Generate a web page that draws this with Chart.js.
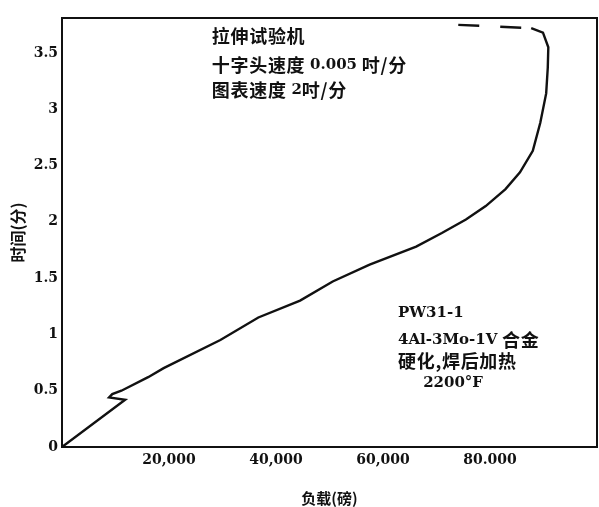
<!DOCTYPE html>
<html>
<head>
<meta charset="utf-8">
<script src="https://cdn.jsdelivr.net/npm/chart.js@4.4.1/dist/chart.umd.min.js"></script>
<style>
  html, body { margin: 0; padding: 0; background: #fff; }
  canvas { display: block; }
</style>
</head>
<body>
<canvas id="c" width="599" height="507"></canvas>
<script>
// ---- data ----
// load in pounds (x) and time in minutes (y), in drawing order (the curve doubles back at the kink)
const loadLb = [0, 11800, 8800, 9400, 11100, 16100, 19000, 29600, 36700, 44500, 50600, 57500,
                66200, 71000, 75500, 79200, 82900, 85600, 88000, 89400, 90500, 90800, 90900, 89900, 87700];
const timeMin = [0, 0.42, 0.44, 0.47, 0.50, 0.62, 0.70, 0.95, 1.15, 1.30, 1.47, 1.62,
                 1.78, 1.90, 2.02, 2.14, 2.29, 2.44, 2.63, 2.88, 3.14, 3.37, 3.55, 3.68, 3.72];
// dashed tail at the top
const tailLoadLb = [87700, 73600];
const tailTimeMin = [3.72, 3.75];

const xTickValues = [20000, 40000, 60000, 80000];
const xTickLabels = ['20,000', '40,000', '60,000', '80.000'];
const yTickValues = [0, 0.5, 1, 1.5, 2, 2.5, 3, 3.5];
const yTickLabels = ['0', '0.5', '1', '1.5', '2', '2.5', '3', '3.5'];

const xTitle = '负载(磅)';
const yTitle = '时间(分)';

// annotation text blocks, anchored in data units
const noteX = [28000, 28000, 28000, 62800, 62800, 62800, 67500];
const noteY = [3.65, 3.39, 3.17, 1.19, 0.95, 0.76, 0.57];
const noteParts = [
  [['拉伸试验机', 'cjk']],
  [['十字头速度 ', 'cjk'], ['0.005', 'lat'], [' 吋/分', 'cjk']],
  [['图表速度 ', 'cjk'], ['2', 'lat'], ['吋/分', 'cjk']],
  [['PW31-1', 'lat']],
  [['4Al-3Mo-1V', 'lat'], [' 合金', 'cjk']],
  [['硬化,焊后加热', 'cjk']],
  [['2200°F', 'lat']]
];

// ---- styles ----
const FONTS = {
  cjk: { font: 'bold 18px "Noto Sans CJK SC"', spacing: '0.7px' },
  lat: { font: 'bold 15px "DejaVu Serif"', spacing: '0px' }
};
const INK = '#111';

const mainPts = loadLb.map((v, i) => ({ x: v, y: timeMin[i] }));
const tailPts = tailLoadLb.map((v, i) => ({ x: v, y: tailTimeMin[i] }));

const framePlugin = {
  id: 'frame',
  afterDatasetsDraw(chart) {
    const { ctx, chartArea: a } = chart;
    ctx.save();
    ctx.strokeStyle = INK;
    ctx.lineWidth = 2;
    ctx.strokeRect(a.left, a.top, a.right - a.left, a.bottom - a.top);
    ctx.restore();
  }
};

const notesPlugin = {
  id: 'notes',
  afterDraw(chart) {
    const { ctx, scales } = chart;
    ctx.save();
    ctx.fillStyle = INK;
    ctx.textBaseline = 'middle';
    ctx.textAlign = 'left';
    noteParts.forEach((parts, i) => {
      let px = scales.x.getPixelForValue(noteX[i]);
      const py = scales.y.getPixelForValue(noteY[i]);
      parts.forEach(([t, f]) => {
        ctx.font = FONTS[f].font;
        if ('letterSpacing' in ctx) ctx.letterSpacing = FONTS[f].spacing;
        ctx.fillText(t, px, py);
        px += ctx.measureText(t).width;
      });
    });
    ctx.restore();
  }
};

new Chart(document.getElementById('c'), {
  type: 'line',
  data: {
    datasets: [
      {
        data: mainPts,
        borderColor: INK,
        borderWidth: 2.4,
        pointRadius: 0,
        tension: 0,
        fill: false
      },
      {
        data: tailPts,
        borderColor: INK,
        borderWidth: 2.4,
        borderDash: [21, 21],
        borderDashOffset: 32,
        pointRadius: 0,
        tension: 0,
        fill: false
      }
    ]
  },
  options: {
    responsive: false,
    animation: false,
    devicePixelRatio: 1,
    layout: { padding: { top: 18, right: 2, left: 0, bottom: 0 } },
    plugins: { legend: { display: false }, tooltip: { enabled: false } },
    scales: {
      x: {
        type: 'linear',
        min: 0,
        max: 100000,
        afterFit(s) { s.height = 60; },
        afterBuildTicks(s) { s.ticks = xTickValues.map(v => ({ value: v })); },
        grid: { display: false, drawTicks: false },
        border: { display: true, color: INK, width: 2 },
        ticks: {
          color: INK,
          font: { family: 'DejaVu Serif', size: 14, weight: 'bold' },
          padding: 5,
          maxRotation: 0,
          autoSkip: false,
          callback(v) { const i = xTickValues.indexOf(v); return i >= 0 ? xTickLabels[i] : ''; }
        },
        title: {
          display: true,
          text: xTitle,
          color: INK,
          font: { family: 'Noto Sans CJK SC', size: 15, weight: 'bold' },
          padding: { top: 0, bottom: 0 }
        }
      },
      y: {
        type: 'linear',
        min: 0,
        max: 3.81,
        afterFit(s) { s.width = 62; },
        afterBuildTicks(s) { s.ticks = yTickValues.map(v => ({ value: v })); },
        grid: { display: false, drawTicks: false },
        border: { display: true, color: INK, width: 2 },
        ticks: {
          color: INK,
          font: { family: 'DejaVu Serif', size: 14, weight: 'bold' },
          padding: 4,
          autoSkip: false,
          callback(v) { const i = yTickValues.indexOf(v); return i >= 0 ? yTickLabels[i] : ''; }
        },
        title: {
          display: true,
          text: yTitle,
          color: INK,
          font: { family: 'Noto Sans CJK SC', size: 16, weight: 'bold' },
          padding: { top: 8, bottom: 0 }
        }
      }
    }
  },
  plugins: [framePlugin, notesPlugin]
});
</script>
</body>
</html>
